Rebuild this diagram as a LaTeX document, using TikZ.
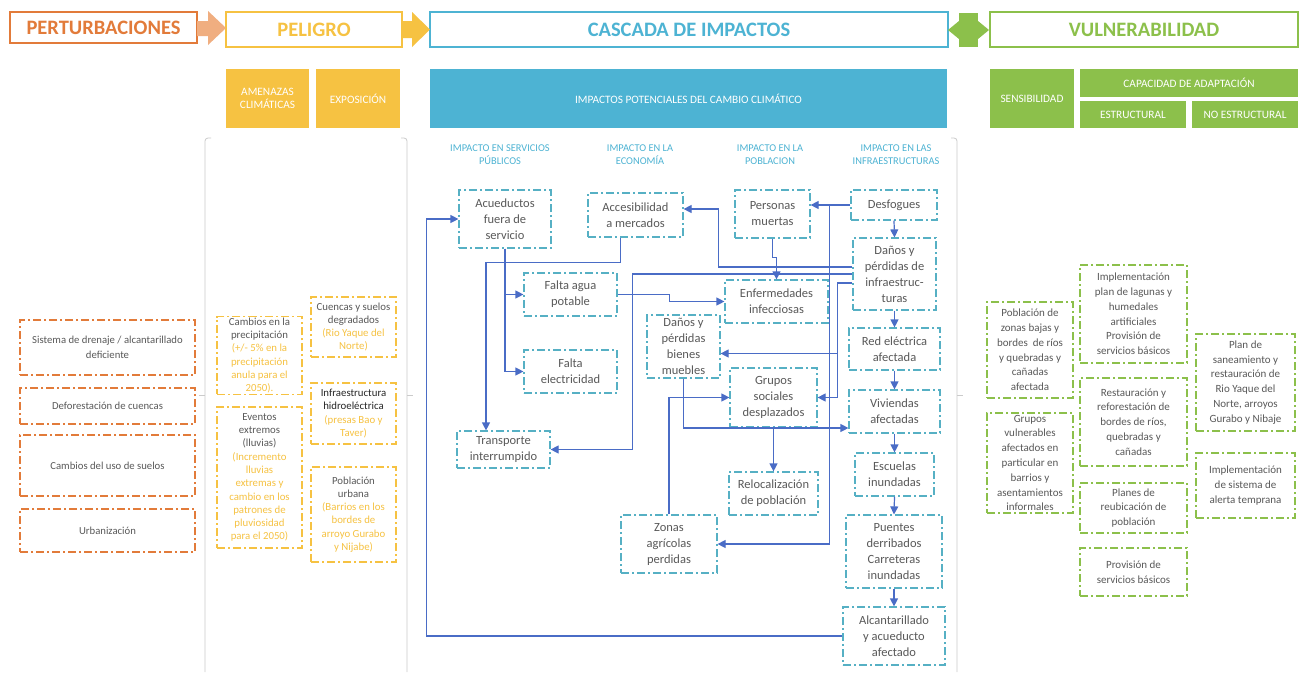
\documentclass[tikz,border=0pt]{standalone}
\usepackage{fontspec}
\setmainfont{Carlito}
\usepackage{tikz}
\usetikzlibrary{arrows.meta}

\definecolor{perc}{HTML}{E27B3A}
\definecolor{perflecha}{HTML}{F0AE80}
\definecolor{pelc}{HTML}{F6C242}
\definecolor{impc}{HTML}{4DB3D3}
\definecolor{cajac}{HTML}{56B0C4}
\definecolor{vulc}{HTML}{8CC04B}
\definecolor{conc}{HTML}{4A6CC6}
\definecolor{txt}{HTML}{595959}
\definecolor{gris}{HTML}{CBCBCB}

\tikzset{
  titulo/.style={draw, line width=2.2pt, font=\fontsize{20.5}{23}\selectfont\bfseries},
  banda/.style={fill, text=white, align=center, font=\fontsize{11.3}{13.5}\selectfont},
  subtit/.style={text=impc, align=center, font=\fontsize{10.4}{12.8}\selectfont},
  caja/.style={draw=cajac, line width=1.2pt, dash pattern=on 8pt off 3pt on 2pt off 3pt,
    text=txt, align=center, inner sep=1pt, font=\fontsize{12.5}{16}\selectfont},
  cajaper/.style={caja, draw=perc, font=\fontsize{10.7}{15}\selectfont},
  cajapel/.style={caja, draw=pelc, text=pelc, font=\fontsize{10.8}{13.3}\selectfont},
  cajavul/.style={caja, draw=vulc, font=\fontsize{11}{14.8}\selectfont},
  flecha/.style={draw=conc, line width=1.2pt, -{Triangle[length=8pt,width=8pt]}},
  corchete/.style={draw=gris, line width=0.8pt},
}

\begin{document}
\begin{tikzpicture}[x=1pt,y=-1pt]
\fill[white] (0,0) rectangle (1306,672);
\useasboundingbox (0,0) rectangle (1306,672);

% fila de titulos
\node[titulo, draw=perc, text=perc, minimum width=187, minimum height=31] (pert) at (103.5,27.5) {PERTURBACIONES};
\node[titulo, draw=pelc, text=pelc, minimum width=176, minimum height=35] (pel) at (314,29.5) {PELIGRO};
\node[titulo, draw=impc, text=impc, minimum width=518, minimum height=35] (casc) at (689,29.5) {CASCADA DE IMPACTOS};
\node[titulo, draw=vulc, text=vulc, minimum width=308, minimum height=35] (vul) at (1144,29.5) {VULNERABILIDAD};

\fill[perflecha] (197,21) -- (208,21) -- (208,11) -- (226,28) -- (208,45) -- (208,36) -- (197,36) -- cycle;
\fill[pelc] (402,21) -- (412,21) -- (412,12) -- (430,29.5) -- (412,47) -- (412,38) -- (402,38) -- cycle;
\fill[vulc] (959,13) rectangle (978,47);
\fill[vulc] (959,21) -- (948,30) -- (959,39) -- cycle;
\fill[vulc] (978,21) -- (989,30) -- (978,39) -- cycle;

% segunda fila
\node[banda, fill=pelc, minimum width=83, minimum height=59] (amen) at (267.5,98.5) {AMENAZAS\\CLIMÁTICAS};
\node[banda, fill=pelc, minimum width=84, minimum height=59] (expo) at (358,98.5) {EXPOSICIÓN};
\node[banda, fill=impc, minimum width=517, minimum height=59] (impot) at (688.5,98.5) {IMPACTOS POTENCIALES DEL CAMBIO CLIMÁTICO};
\node[banda, fill=vulc, minimum width=84, minimum height=59] (sensi) at (1032,98.5) {SENSIBILIDAD};
\node[banda, fill=vulc, minimum width=218, minimum height=28] (capad) at (1189,83) {CAPACIDAD DE ADAPTACIÓN};
\node[banda, fill=vulc, minimum width=106, minimum height=27] (estru) at (1133,114.5) {ESTRUCTURAL};
\node[banda, fill=vulc, minimum width=106, minimum height=27] (noestru) at (1245,114.5) {NO ESTRUCTURAL};

\node[subtit] (h1) at (500,154.5) {IMPACTO EN SERVICIOS\\PÚBLICOS};
\node[subtit] (h2) at (640,154.5) {IMPACTO EN LA\\ECONOMÍA};
\node[subtit] (h3) at (770,154.5) {IMPACTO EN LA\\POBLACION};
\node[subtit] (h4) at (896,154.5) {IMPACTO EN LAS\\INFRAESTRUCTURAS};

% corchetes
\draw[corchete, rounded corners=3pt] (211,138) -- (205,138) -- (205,672);
\draw[corchete] (205,395) -- (199,395);
\draw[corchete, rounded corners=3pt] (401,138) -- (407,138) -- (407,672);
\draw[corchete] (407,395) -- (413,395);
\draw[corchete, rounded corners=3pt] (951,138) -- (957,138) -- (957,672);
\draw[corchete] (957,395) -- (963,395);

% perturbaciones
\node[cajaper, minimum width=175, minimum height=55] (drenaje) at (107.5,347.5) {Sistema de drenaje / alcantarillado\\deficiente};
\node[cajaper, minimum width=175, minimum height=36] (defor) at (107.5,406) {Deforestación de cuencas};
\node[cajaper, minimum width=175, minimum height=61] (usos) at (107.5,465.5) {Cambios del uso de suelos};
\node[cajaper, minimum width=175, minimum height=43] (urban) at (107.5,530.5) {Urbanización};

% peligro
\node[cajapel, minimum width=85, minimum height=75] (precip) at (259.5,355.5)
  {\color{txt}Cambios en la\\\color{txt}precipitación\\(+/- 5\% en la\\precipitación\\anula para el\\2050).};
\node[cajapel, minimum width=85, minimum height=141] (eventos) at (259.5,477.5)
  {\color{txt}Eventos\\\color{txt}extremos\\\color{txt}(lluvias)\\(Incremento\\lluvias\\extremas y\\cambio en los\\patrones de\\pluviosidad\\para el 2050)};
\node[cajapel, minimum width=85, minimum height=60] (cuencas) at (353.5,327)
  {\color{txt}Cuencas y suelos\\\color{txt}degradados\\(Rio Yaque del\\Norte)};
\node[cajapel, minimum width=85, minimum height=61] (hidro) at (353.5,413.5)
  {\color{black!85}Infraestructura\\\color{black!85}hidroeléctrica\\(presas Bao y\\Taver)};
\node[cajapel, minimum width=85, minimum height=95] (pobur) at (353.5,514.5)
  {\color{txt}Población\\\color{txt}urbana\\(Barrios en los\\bordes de\\arroyo Gurabo\\y Nijabe)};

% cascada de impactos
\node[caja, minimum width=92, minimum height=58] (acued) at (505,219) {Acueductos\\fuera de\\servicio};
\node[caja, minimum width=95, minimum height=44] (acces) at (635.5,215) {Accesibilidad\\a mercados};
\node[caja, minimum width=75, minimum height=48] (personas) at (772.5,214) {Personas\\muertas};
\node[caja, minimum width=86, minimum height=30] (desf) at (894,205) {Desfogues};
\node[caja, minimum width=83, minimum height=72] (dinfra) at (894.5,274) {Daños y\\pérdidas de\\infraestruc-\\turas};
\node[caja, minimum width=93, minimum height=43] (agua) at (570.5,294.5) {Falta agua\\potable};
\node[caja, minimum width=103, minimum height=43] (enf) at (776.5,301.5) {Enfermedades\\infecciosas};
\node[caja, minimum width=73, minimum height=63] (bienes) at (683.5,346.5) {Daños y\\pérdidas\\bienes\\muebles};
\node[caja, minimum width=93, minimum height=43] (elec) at (570.5,371.5) {Falta\\electricidad};
\node[caja, minimum width=91, minimum height=42] (red) at (894.5,349) {Red eléctrica\\afectada};
\node[caja, minimum width=87, minimum height=59] (grupos) at (773.5,397.5) {Grupos\\sociales\\desplazados};
\node[caja, minimum width=91, minimum height=43] (viv) at (894.5,411.5) {Viviendas\\afectadas};
\node[caja, minimum width=93, minimum height=37] (transp) at (503.5,449.5) {Transporte\\interrumpido};
\node[caja, minimum width=79, minimum height=43] (escuelas) at (894.5,474.5) {Escuelas\\inundadas};
\node[caja, minimum width=89, minimum height=43] (reloc) at (773.5,493.5) {Relocalización\\de población};
\node[caja, minimum width=96, minimum height=58] (zonas) at (669,544) {Zonas\\agrícolas\\perdidas};
\node[caja, minimum width=96, minimum height=73] (puentes) at (894,551.5) {Puentes\\derribados\\Carreteras\\inundadas};
\node[caja, minimum width=102, minimum height=58] (alcant) at (894,636) {Alcantarillado\\y acueducto\\afectado};

\foreach \a/\b in {desf/dinfra, dinfra/red, red/viv, viv/escuelas, escuelas/puentes, puentes/alcant}
  \draw[flecha] (\a.south) -- (\b.north);

\draw[flecha] (alcant.west) -| ([xshift=-32pt]acued.west) -- (acued.west);
\draw[flecha] (acued.south) |- (agua.west);
\draw[flecha] (acued.south) |- (elec.west);
\draw[flecha] ([xshift=-15pt]acces.south) -- ++(0,25) -| ([xshift=-17.5pt]transp.north);
\draw[flecha] (dinfra.west) -| ([xshift=82pt]transp.east) -- (transp.east);
\draw[flecha] ([yshift=7pt]dinfra.west) -| ([xshift=35pt,yshift=6pt]acces.east) -- ([yshift=6pt]acces.east);
\coordinate (cg) at ([xshift=20pt]grupos.east);
\coordinate (cb) at ([yshift=-7pt]bienes.east);
\draw[flecha] ([yshift=-9pt]dinfra.west) -| (cg) -- (grupos.east);
\draw[flecha] (cg |- cb) -- (cb);
\coordinate (cd) at ([xshift=-21pt]desf.west);
\draw[flecha] (desf.west) -- (desf.west -| personas.east);
\draw[flecha] (cd) |- (zonas.east);
\draw[flecha] (personas.south) -- ++(0,19) -| (enf.north);
\draw[flecha] (agua.east) -| ([xshift=-55pt]enf.west) -- (enf.west);
\draw[flecha] (bienes.south) |- ([yshift=-16.5pt]viv.west);
\draw[flecha] (zonas.north) |- (grupos.west);
\draw[flecha] (grupos.south) -- (reloc.north);

% vulnerabilidad
\node[cajavul, minimum width=86, minimum height=96] (sens1) at (1030,350)
  {Población de\\zonas bajas y\\bordes~ de ríos\\y quebradas y\\cañadas\\afectada};
\node[cajavul, minimum width=86, minimum height=100] (sens2) at (1030,463)
  {Grupos\\vulnerables\\afectados en\\particular en\\barrios y\\asentamientos\\informales};
\node[cajavul, minimum width=107, minimum height=98] (est1) at (1133.5,314)
  {Implementación\\plan de lagunas y\\humedales\\artificiales\\Provisión de\\servicios básicos};
\node[cajavul, minimum width=107, minimum height=88] (est2) at (1133.5,422)
  {Restauración y\\reforestación de\\bordes de ríos,\\quebradas y\\cañadas};
\node[cajavul, minimum width=107, minimum height=50] (est3) at (1133.5,508)
  {Planes de\\reubicación de\\población};
\node[cajavul, minimum width=107, minimum height=48] (est4) at (1133.5,572)
  {Provisión de\\servicios básicos};
\node[cajavul, minimum width=99, minimum height=97] (noest1) at (1245.5,382.5)
  {Plan de\\saneamiento y\\restauración de\\Rio Yaque del\\Norte, arroyos\\Gurabo y Nibaje};
\node[cajavul, minimum width=99, minimum height=65] (noest2) at (1245.5,485.5)
  {Implementación\\de sistema de\\alerta temprana};

\end{tikzpicture}
\end{document}
